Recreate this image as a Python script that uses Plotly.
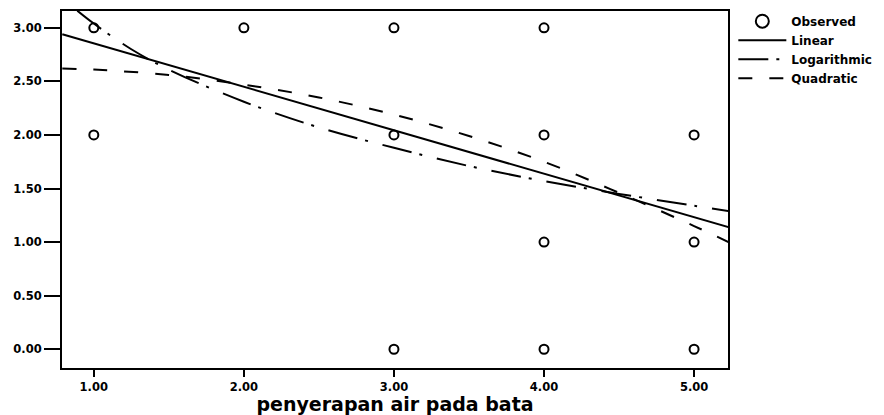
import plotly.graph_objects as go

# Observed points
obs_x = [1, 1, 2, 3, 3, 3, 4, 4, 4, 4, 5, 5, 5]
obs_y = [3, 2, 3, 3, 2, 0, 3, 2, 1, 0, 2, 1, 0]

# Fitted curves
linear_x = [0.79, 5.23]
linear_y = [2.94, 1.14]

log_x = [0.89, 1.0, 1.25, 1.5, 2.0, 2.5, 3.0, 3.5, 4.0, 4.5, 5.0, 5.23]
log_y = [3.16, 3.04, 2.80, 2.61, 2.31, 2.07, 1.88, 1.71, 1.57, 1.45, 1.34, 1.29]

quad_x = [0.79, 1.0, 1.5, 2.0, 2.5, 3.0, 3.5, 4.0, 4.5, 5.0, 5.23]
quad_y = [2.62, 2.61, 2.56, 2.47, 2.35, 2.19, 1.99, 1.75, 1.46, 1.15, 1.00]

x_ticks = [1, 2, 3, 4, 5]
y_ticks = [0, 0.5, 1.0, 1.5, 2.0, 2.5, 3.0]

FONT = "DejaVu Sans"

fig = go.Figure()

fig.add_trace(go.Scatter(
    x=obs_x, y=obs_y, mode="markers", name="Observed", showlegend=False,
    marker=dict(symbol="circle-open", size=9, color="black", line=dict(width=2, color="black")),
))
fig.add_trace(go.Scatter(
    x=[None], y=[None], mode="markers", name="Observed",
    marker=dict(symbol="circle-open", size=13, color="black", line=dict(width=2, color="black")),
))
fig.add_trace(go.Scatter(
    x=linear_x, y=linear_y, mode="lines", name="Linear",
    line=dict(color="black", width=2),
))
fig.add_trace(go.Scatter(
    x=log_x, y=log_y, mode="lines", name="Logarithmic", line_shape="spline",
    line=dict(color="black", width=2, dash="30px,8px,3px,15px"),
))
fig.add_trace(go.Scatter(
    x=quad_x, y=quad_y, mode="lines", name="Quadratic", line_shape="spline",
    line=dict(color="black", width=2, dash="14px,17px"),
))

axis_common = dict(
    showline=True, linecolor="black", linewidth=2, mirror=True,
    showgrid=False, zeroline=False, ticks="outside", tickcolor="black",
    tickwidth=2, tickformat=".2f",
    tickfont=dict(family=FONT, size=11.5, color="black", weight="bold"),
)

fig.update_xaxes(
    range=[0.788, 5.226], tickvals=x_ticks, ticklen=7,
    title=dict(text="penyerapan air pada bata", standoff=2,
               font=dict(family=FONT, size=19, color="black", weight="bold")),
    **axis_common,
)
fig.update_yaxes(
    range=[-0.175, 3.157], tickvals=y_ticks, ticklen=16,
    **axis_common,
)

fig.update_layout(
    width=884, height=415,
    margin=dict(l=62, r=153, t=7, b=47),
    plot_bgcolor="white", paper_bgcolor="white",
    showlegend=True,
    legend=dict(
        x=1.008, y=1.012, xanchor="left", yanchor="top",
        bgcolor="rgba(0,0,0,0)", borderwidth=0,
        itemwidth=48, tracegroupgap=0,
        font=dict(family=FONT, size=12, color="black", weight="bold"),
    ),
)

fig.write_html("out.html")
